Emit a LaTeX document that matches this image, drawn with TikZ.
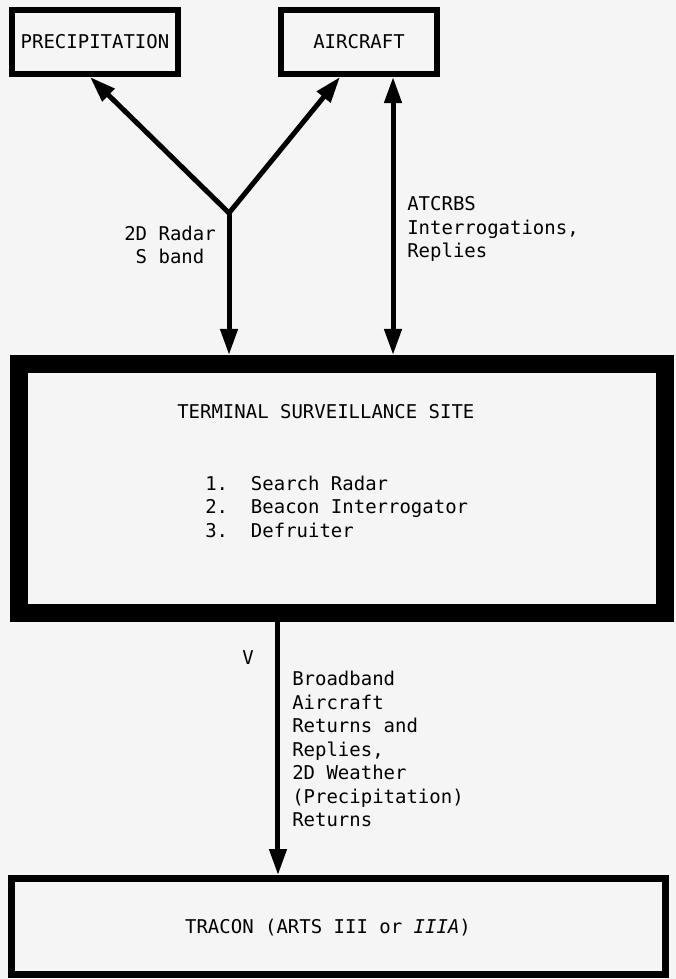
\documentclass[tikz,border=0pt]{standalone}
\usepackage{fontspec}
\setmonofont{DejaVu Sans Mono}
\usetikzlibrary{arrows.meta, positioning, calc}
\newcommand{\txtfont}{\ttfamily\fontsize{13.5}{16.7}\selectfont}
\tikzset{
  endbox/.style={
    rectangle, draw=black, line width=0.15cm,
    minimum height=1.6cm, inner sep=0pt, font=\txtfont,
  },
  sitebox/.style={endbox, line width=0.45cm, minimum width=16.15cm, minimum height=6.225cm},
  traconbox/.style={endbox, line width=0.175cm, minimum width=16.35cm, minimum height=2.41cm},
  flowarrow/.style={-{Triangle[length=0.65cm, width=0.42cm]}, line width=0.125cm},
  dblarrow/.style={{Triangle[length=0.65cm, width=0.42cm]}-{Triangle[length=0.65cm, width=0.42cm]},
    line width=0.125cm, line join=miter},
  lbl/.style={inner sep=0pt, font=\txtfont},
}

\begin{document}
\begin{tikzpicture}[x=0.025cm, y=-0.025cm]
\fill[black!4] (0,0) rectangle (676,979);
\useasboundingbox (0,0) rectangle (676,979);

% ---- Boites du haut ----
\node[endbox, minimum width=4.15cm] (prec) at (95,42) {PRECIPITATION};
\node[endbox, minimum width=3.9cm] (acft) at (359,42) {AIRCRAFT};

% ---- Site terminal ----
\node[sitebox] (tss) at (342,488.5) {};
\node[lbl, anchor=west] (tsstitle) at (177,412) {TERMINAL SURVEILLANCE SITE};
\node[lbl, anchor=west, align=left] (tsslist) at (205,506.5)
  {1.\ \ Search Radar\\2.\ \ Beacon Interrogator\\3.\ \ Defruiter};

% ---- TRACON ----
\node[traconbox] (tracon) at (338.5,926.75) {};
\node[lbl] (tracontxt) at (328,928) {TRACON (ARTS III or \textit{IIIA})};

% ---- Fleches ----
\coordinate (yjoin) at (229,213);
\coordinate (prectip) at ([xshift=-0.125cm]prec.south);
\coordinate (acfttip) at ([xshift=-0.475cm]acft.south);
\coordinate (atctop) at ([xshift=0.85cm]acft.south);
\coordinate (vout) at ([xshift=-1.6cm]tss.south);
\draw[dblarrow] (prectip) -- (yjoin) -- (acfttip);
\draw[flowarrow] (yjoin) -- (yjoin |- tss.north);
\draw[dblarrow] (atctop) -- (atctop |- tss.north);
\draw[flowarrow] (vout) -- (vout |- tracon.north);

% ---- Etiquettes ----
\node[lbl, align=center, anchor=east] (radarlbl) at (216,245) {2D Radar\\S band};
\node[lbl, align=left, anchor=west] (atclbl) at (407,229)
  {ATCRBS\\Interrogations,\\Replies};
\node[lbl] (vlbl) at (248,658) {V};
\node[lbl, align=left, anchor=west] (outlbl) at (292,749)
  {Broadband\\Aircraft\\Returns and\\Replies,\\2D Weather\\(Precipitation)\\Returns};

\end{tikzpicture}
\end{document}
